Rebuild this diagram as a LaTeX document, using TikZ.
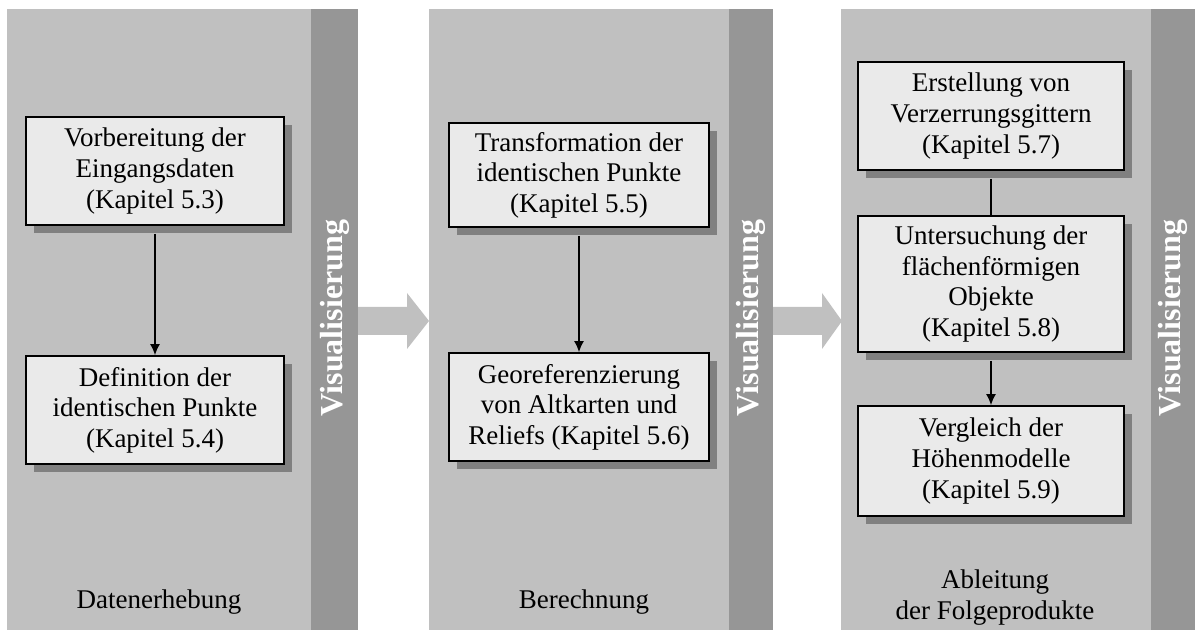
\documentclass[tikz,border=0pt]{standalone}
\usepackage{fontspec}
\setmainfont{Liberation Serif}
\usepackage{tikz}
\usetikzlibrary{positioning,shadows,arrows.meta}
\definecolor{panelgray}{HTML}{C0C0C0}
\definecolor{stripgray}{HTML}{969696}
\definecolor{boxfill}{HTML}{EAEAEA}
\definecolor{shadowgray}{HTML}{808080}
\tikzset{
  stepbox/.style={draw, line width=0.9pt, fill=boxfill, align=center, minimum width=129pt, minimum height=54pt, inner sep=2pt, font=\fontsize{13.5}{15.3}\selectfont, drop shadow={shadow xshift=4pt, shadow yshift=-4pt, fill=shadowgray, opacity=1}},
  phase/.style={align=center, font=\fontsize{13.5}{15.5}\selectfont},
  vislabel/.style={rotate=90, text=white, font=\fontsize{16}{19}\selectfont\bfseries},
  link/.style={line width=0.7pt, shorten <=4pt},
  flow/.style={-{Latex[length=5.5pt,width=5pt]}, line width=0.7pt, shorten <=4pt}
}

\begin{document}
\begin{tikzpicture}[x=0.5pt, y=-0.5pt]
  \useasboundingbox[fill=white] (0,0) rectangle (1195,630);

  % Spalten
  \fill[panelgray] (7,9) rectangle (311,630);
  \fill[stripgray] (311,9) rectangle (358,630);
  \fill[panelgray] (429,9) rectangle (729,630);
  \fill[stripgray] (729,9) rectangle (773,630);
  \fill[panelgray] (841,9) rectangle (1151,630);
  \fill[stripgray] (1151,9) rectangle (1195,630);

  % Blockpfeile
  \fill[panelgray] (358,307) -- (407,307) -- (407,293) -- (429,321) -- (407,349) -- (407,335) -- (358,335) -- cycle;
  \fill[panelgray] (773,307) -- (822,307) -- (822,293) -- (842,321) -- (822,349) -- (822,335) -- (773,335) -- cycle;

  \node[stepbox] (datA) at (155,171) {Vorbereitung der\\Eingangsdaten\\(Kapitel 5.3)};
  \node[stepbox] (datB) at (155,410) {Definition der\\identischen Punkte\\(Kapitel 5.4)};
  \draw[flow] (datA) -- (datB);
  \node[phase] (datL) at (159,602) {Datenerhebung};
  \node[vislabel] (visA) at (335,318) {Visualisierung};

  \node[stepbox, minimum width=130pt, minimum height=52pt] (berA) at (579,175) {Transformation der\\identischen Punkte\\(Kapitel 5.5)};
  \node[stepbox, minimum width=130pt] (berB) at (579,407) {Georeferenzierung\\von Altkarten und\\Reliefs (Kapitel 5.6)};
  \draw[flow] (berA) -- (berB);
  \node[phase] (berL) at (584,602) {Berechnung};
  \node[vislabel] (visB) at (751,318) {Visualisierung};

  \node[stepbox, minimum width=133pt] (ablA) at (991,116) {Erstellung von\\Verzerrungsgittern\\(Kapitel 5.7)};
  \node[stepbox, minimum width=133pt, minimum height=68pt] (ablB) at (991,284) {Untersuchung der\\flächenförmigen\\Objekte\\(Kapitel 5.8)};
  \node[stepbox, minimum width=133pt, minimum height=55pt] (ablC) at (991,461) {Vergleich der\\Höhenmodelle\\(Kapitel 5.9)};
  \draw[link] (ablA) -- (ablB);
  \draw[flow] (ablB) -- (ablC);
  \node[phase] (ablL) at (995,598) {Ableitung\\der Folgeprodukte};
  \node[vislabel] (visC) at (1173,318) {Visualisierung};
\end{tikzpicture}
\end{document}
